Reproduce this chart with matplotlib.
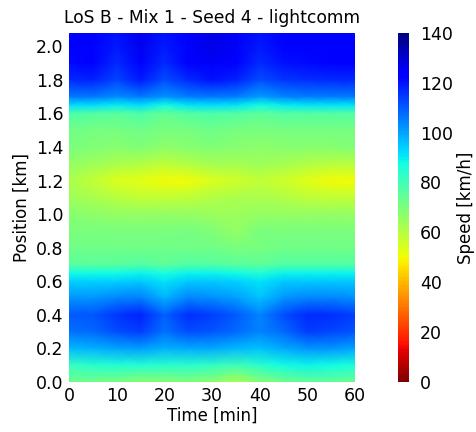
import matplotlib
matplotlib.use("Agg")
import matplotlib.pyplot as plt
import numpy as np

# Time axis [min] and road position [km]
times = [0, 5, 10, 15, 20, 25, 30, 35, 40, 45, 50, 55, 60]
positions = [0.0, 0.1, 0.2, 0.3, 0.4, 0.5, 0.6, 0.65, 0.7, 0.8, 0.9, 1.0,
             1.1, 1.2, 1.3, 1.4, 1.5, 1.6, 1.65, 1.7, 1.8, 1.9, 2.0, 2.1]

# Mean speed [km/h], one row per position, one column per time step
speed = [
    [72, 72, 70, 68, 68, 69, 67, 62, 68, 72, 74, 74, 73],            # 0.0
    [82, 84, 85, 85, 84, 84, 83, 80, 84, 88, 89, 88, 86],            # 0.1
    [97, 98, 100, 101, 98, 99, 99, 97, 96, 99, 102, 102, 100],       # 0.2
    [107, 108, 112, 114, 107, 112, 111, 108, 104, 108, 114, 113, 111],  # 0.3
    [110, 111, 115, 118, 109, 116, 114, 110, 104, 112, 117, 116, 114],  # 0.4
    [102, 102, 104, 105, 98, 104, 103, 101, 96, 102, 104, 104, 103],   # 0.5
    [94, 94, 94, 95, 91, 95, 95, 94, 91, 95, 95, 95, 95],            # 0.6
    [88, 88, 88, 89, 86, 89, 89, 88, 85, 89, 89, 89, 89],            # 0.65
    [76, 76, 76, 77, 75, 77, 77, 76, 75, 77, 77, 77, 77],            # 0.7
    [72, 72, 72, 72, 72, 72, 72, 70, 71, 72, 72, 72, 72],            # 0.8
    [70, 70, 70, 70, 70, 71, 69, 66, 70, 70, 70, 70, 70],            # 0.9
    [68, 67, 66, 66, 66, 66, 65, 64, 66, 66, 66, 66, 66],            # 1.0
    [64, 62, 60, 58, 58, 59, 61, 62, 62, 61, 59, 58, 58],            # 1.1
    [62, 58, 54, 52, 50, 50, 54, 56, 58, 56, 53, 50, 50],            # 1.2
    [66, 64, 62, 61, 59, 61, 63, 63, 64, 63, 61, 60, 60],            # 1.3
    [70, 69, 68, 69, 67, 68, 69, 68, 67, 68, 68, 68, 69],            # 1.4
    [72, 71, 71, 72, 70, 71, 72, 71, 70, 71, 71, 71, 71],            # 1.5
    [78, 77, 76, 78, 74, 77, 78, 77, 75, 77, 77, 77, 77],            # 1.6
    [92, 92, 90, 92, 88, 91, 92, 91, 88, 90, 91, 91, 91],            # 1.65
    [106, 106, 103, 106, 102, 105, 106, 105, 101, 104, 105, 105, 105],  # 1.7
    [117, 118, 113, 119, 112, 117, 120, 118, 112, 115, 116, 117, 117],  # 1.8
    [121, 122, 117, 124, 117, 122, 125, 123, 117, 120, 121, 122, 122],  # 1.9
    [123, 124, 119, 126, 119, 124, 127, 125, 119, 122, 123, 124, 124],  # 2.0
    [123, 124, 120, 126, 120, 124, 127, 125, 120, 122, 123, 124, 124],  # 2.1
]

fig = plt.figure(figsize=(4.76, 4.32), dpi=100)
ax = fig.add_axes([0.145, 0.116, 0.601, 0.808])
cax = fig.add_axes([0.836, 0.116, 0.023, 0.808])

mesh = ax.pcolormesh(times, positions, np.array(speed), shading="gouraud",
                     cmap="jet_r", vmin=0, vmax=140)
ax.set_xlim(0, 60)
ax.set_ylim(0, 2.08)
ax.set_xticks([0, 10, 20, 30, 40, 50, 60])
ax.set_yticks(np.round(np.arange(0, 2.01, 0.2), 1))
ax.tick_params(length=0, labelsize=12.5, pad=4)
for s in ax.spines.values():
    s.set_visible(False)
ax.set_xlabel("Time [min]", fontsize=12, labelpad=1)
ax.set_ylabel("Position [km]", fontsize=12)
ax.set_title("LoS B - Mix 1 - Seed 4 - lightcomm", fontsize=12.3, pad=7)

cb = fig.colorbar(mesh, cax=cax)
cb.set_ticks([0, 20, 40, 60, 80, 100, 120, 140])
cb.ax.tick_params(length=0, labelsize=12.5, pad=8)
cb.outline.set_visible(False)
cb.set_label("Speed [km/h]", fontsize=12, labelpad=3)

fig.savefig("out.png", dpi=100)
